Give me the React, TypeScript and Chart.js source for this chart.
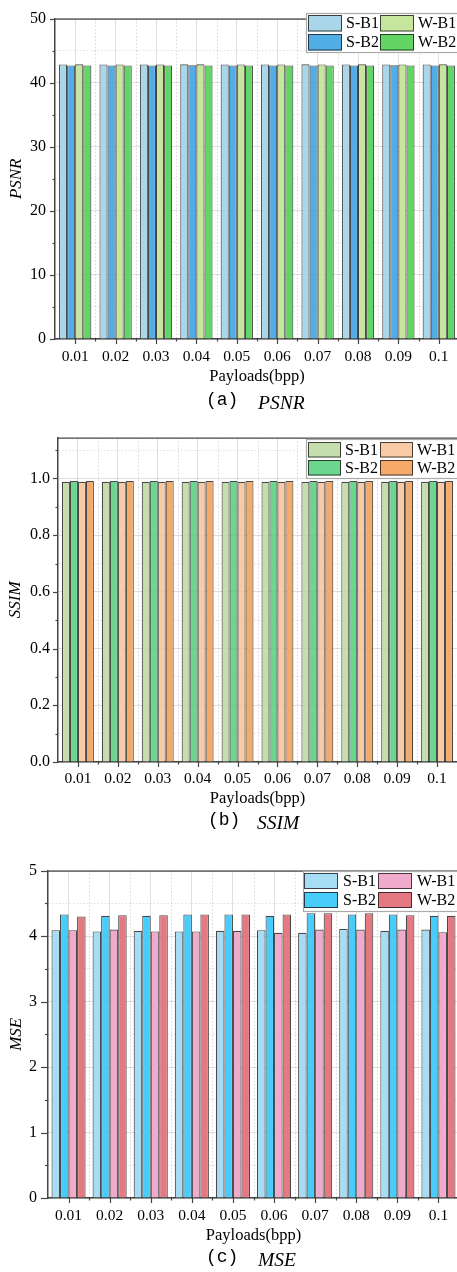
import React, { useEffect, useRef } from "react";
import { Chart, registerables } from "chart.js";
Chart.register(...registerables);

const categories = ["0.01", "0.02", "0.03", "0.04", "0.05", "0.06", "0.07", "0.08", "0.09", "0.1"];
const seriesNames = ["S-B1", "S-B2", "W-B1", "W-B2"];

const psnrSB1 = [42.85, 42.85, 42.84, 42.86, 42.85, 42.85, 42.86, 42.85, 42.84, 42.85];
const psnrSB2 = [42.7, 42.69, 42.7, 42.71, 42.7, 42.69, 42.7, 42.7, 42.71, 42.7];
const psnrWB1 = [42.86, 42.85, 42.85, 42.86, 42.84, 42.85, 42.85, 42.86, 42.85, 42.86];
const psnrWB2 = [42.68, 42.69, 42.68, 42.69, 42.68, 42.69, 42.68, 42.68, 42.69, 42.68];

const ssimSB1 = [0.988, 0.988, 0.988, 0.988, 0.988, 0.988, 0.987, 0.988, 0.988, 0.988];
const ssimSB2 = [0.991, 0.991, 0.991, 0.991, 0.991, 0.991, 0.991, 0.991, 0.991, 0.991];
const ssimWB1 = [0.988, 0.988, 0.988, 0.988, 0.988, 0.988, 0.988, 0.988, 0.988, 0.988];
const ssimWB2 = [0.991, 0.991, 0.991, 0.991, 0.991, 0.991, 0.991, 0.991, 0.991, 0.991];

const mseSB1 = [4.09, 4.07, 4.08, 4.07, 4.08, 4.09, 4.05, 4.11, 4.08, 4.1];
const mseSB2 = [4.33, 4.31, 4.31, 4.33, 4.33, 4.31, 4.35, 4.33, 4.33, 4.31];
const mseWB1 = [4.09, 4.1, 4.07, 4.07, 4.08, 4.05, 4.1, 4.1, 4.1, 4.06];
const mseWB2 = [4.3, 4.32, 4.32, 4.33, 4.33, 4.33, 4.35, 4.35, 4.32, 4.31];

const FONT = '"Liberation Serif", "Times New Roman", serif';
const BAR_BORDER = "rgba(20,20,20,0.78)";
const AXIS_COLOR = "#454545";

type LegendCfg = { left: number; top: number; h: number; dx: number[]; dy: number[]; sw: number; sh: number; tg: number };
type PanelCfg = {
  top: number; height: number; width: number; padTop: number; padRight: number;
  yWidth: number; xHeight: number; yMax: number; yMajor: number; yMinor: number; yDecimals: number;
  yTitle: string; yTitlePad: number; yLabelPad: number; xLabelPad: number; xTitlePad: number;
  majorTick: number; minorTick: number; catPct: number; colors: string[]; series: number[][]; legend: LegendCfg;
};

const isMajor = (v: number, major: number) => Math.abs(v / major - Math.round(v / major)) < 1e-6;

const decorPlugin = {
  id: "decor",
  beforeDatasetsDraw(chart: any) {
    const { ctx, chartArea: a } = chart;
    const x = chart.scales.x;
    const n = chart.data.labels.length;
    const step = x.getPixelForValue(1) - x.getPixelForValue(0);
    ctx.save();
    ctx.strokeStyle = "rgba(0,0,0,0.16)";
    ctx.lineWidth = 1;
    ctx.setLineDash([1.5, 2]);
    for (let i = 1; i < n; i++) {
      const px = Math.round(x.getPixelForValue(i) - step / 2) + 0.5;
      ctx.beginPath();
      ctx.moveTo(px, a.top);
      ctx.lineTo(px, a.bottom);
      ctx.stroke();
    }
    ctx.restore();
  },
  afterDraw(chart: any, _args: any, opts: any) {
    const { ctx, chartArea: a } = chart;
    const x = chart.scales.x;
    const y = chart.scales.y;
    const n = chart.data.labels.length;
    const step = x.getPixelForValue(1) - x.getPixelForValue(0);
    ctx.save();
    ctx.strokeStyle = AXIS_COLOR;
    ctx.lineWidth = 1.4;
    ctx.beginPath();
    ctx.moveTo(a.left, a.top + 0.5);
    ctx.lineTo(a.right, a.top + 0.5);
    ctx.stroke();
    ctx.lineWidth = 1.2;
    for (const t of y.ticks) {
      const py = Math.round(y.getPixelForValue(t.value)) + 0.5;
      const len = isMajor(t.value, opts.yMajor) ? opts.majorTick : opts.minorTick;
      ctx.beginPath();
      ctx.moveTo(a.left - len, py);
      ctx.lineTo(a.left, py);
      ctx.stroke();
    }
    for (let i = 0; i < n; i++) {
      const px = Math.round(x.getPixelForValue(i)) + 0.5;
      ctx.beginPath();
      ctx.moveTo(px, a.bottom);
      ctx.lineTo(px, a.bottom + 5);
      ctx.stroke();
      const bx = Math.round(x.getPixelForValue(i) + step / 2) + 0.5;
      if (i < n - 1) {
        ctx.beginPath();
        ctx.moveTo(bx, a.bottom);
        ctx.lineTo(bx, a.bottom + 2.5);
        ctx.stroke();
      }
    }
    const L: LegendCfg = opts.legend;
    ctx.fillStyle = "#ffffff";
    ctx.fillRect(L.left, L.top, chart.width - L.left + 5, L.h);
    ctx.strokeStyle = "#aaaaaa";
    ctx.lineWidth = 1.2;
    ctx.strokeRect(L.left + 0.5, L.top + 0.5, chart.width - L.left + 5, L.h);
    ctx.font = `16px ${FONT}`;
    ctx.textBaseline = "middle";
    ctx.textAlign = "left";
    chart.data.datasets.forEach((d: any, i: number) => {
      const col = Math.floor(i / 2);
      const row = i % 2;
      const sx = L.left + L.dx[col];
      const sy = L.top + L.dy[row];
      ctx.fillStyle = d.backgroundColor;
      ctx.fillRect(sx, sy, L.sw, L.sh);
      ctx.strokeStyle = BAR_BORDER;
      ctx.lineWidth = 1;
      ctx.strokeRect(sx + 0.5, sy + 0.5, L.sw - 1, L.sh - 1);
      ctx.fillStyle = "#000";
      ctx.fillText(d.label, sx + L.sw + L.tg, sy + L.sh / 2 + 1);
    });
    ctx.restore();
  },
};

function Panel({ cfg }: { cfg: PanelCfg }) {
  const ref = useRef<HTMLCanvasElement | null>(null);
  useEffect(() => {
    if (!ref.current) return;
    const chart = new Chart(ref.current, {
      type: "bar",
      data: {
        labels: categories,
        datasets: seriesNames.map((name, i) => ({
          label: name,
          data: cfg.series[i],
          backgroundColor: cfg.colors[i],
          borderColor: BAR_BORDER,
          borderWidth: 1.1,
          barPercentage: 1,
          categoryPercentage: cfg.catPct,
        })),
      },
      options: {
        animation: false,
        responsive: false,
        devicePixelRatio: 1,
        layout: { padding: { top: cfg.padTop, right: cfg.padRight, left: 0, bottom: 0 } },
        plugins: {
          legend: { display: false },
          tooltip: { enabled: false },
          decor: { legend: cfg.legend, yMajor: cfg.yMajor, majorTick: cfg.majorTick, minorTick: cfg.minorTick },
        } as any,
        scales: {
          x: {
            offset: true,
            grid: { offset: false, color: "rgba(0,0,0,0.12)", lineWidth: 1, drawTicks: false },
            border: { display: true, color: AXIS_COLOR, width: 1.5 },
            ticks: { color: "#000", font: { family: FONT, size: 15.5 }, padding: cfg.xLabelPad, maxRotation: 0, autoSkip: false },
            title: { display: true, text: "Payloads(bpp)", color: "#000", font: { family: FONT, size: 16.5 }, padding: { top: 0, bottom: cfg.xTitlePad } },
            afterFit: (s: any) => { s.height = cfg.xHeight; },
          },
          y: {
            min: 0,
            max: cfg.yMax,
            grid: { drawTicks: false, color: "rgba(0,0,0,0.12)", lineWidth: 1 },
            border: {
              display: true, color: AXIS_COLOR, width: 1.5,
              dash: (c: any) => (c.tick && !isMajor(c.tick.value, cfg.yMajor) ? [1.5, 2] : []),
            },
            ticks: {
              stepSize: cfg.yMinor,
              includeBounds: false,
              color: "#000",
              font: { family: FONT, size: 16 },
              padding: cfg.yLabelPad,
              callback: (v: any) => (isMajor(Number(v), cfg.yMajor) ? Number(v).toFixed(cfg.yDecimals) : ""),
            },
            title: { display: true, text: cfg.yTitle, color: "#000", font: { family: FONT, size: 17, style: "italic" }, padding: { top: cfg.yTitlePad, bottom: 0 } },
            afterFit: (s: any) => { s.width = cfg.yWidth; },
          },
        },
      } as any,
      plugins: [decorPlugin as any],
    });
    return () => chart.destroy();
  }, []);
  return (
    <div style={{ position: "absolute", left: 0, top: cfg.top, width: cfg.width, height: cfg.height }}>
      <canvas ref={ref} width={cfg.width} height={cfg.height} style={{ width: cfg.width, height: cfg.height, display: "block" }} />
    </div>
  );
}

const psnrCfg: PanelCfg = {
  top: 0, height: 395, width: 459, padTop: 13, padRight: 0, yWidth: 55, xHeight: 56,
  yMax: 50, yMajor: 10, yMinor: 5, yDecimals: 0, yTitle: "PSNR", yTitlePad: 6.5, yLabelPad: 9,
  xLabelPad: 9, xTitlePad: 8, majorTick: 5, minorTick: 2.5, catPct: 0.8,
  colors: ["#a9d6e8", "#52ace6", "#c7e69d", "#62d565"],
  series: [psnrSB1, psnrSB2, psnrWB1, psnrWB2],
  legend: { left: 306, top: 13, h: 39, dx: [2, 74], dy: [2, 21], sw: 34, sh: 16.5, tg: 4 },
};

const ssimCfg: PanelCfg = {
  top: 420, height: 395, width: 459, padTop: 17, padRight: 2, yWidth: 58, xHeight: 53,
  yMax: 1.144, yMajor: 0.2, yMinor: 0.1, yDecimals: 1, yTitle: "SSIM", yTitlePad: 5.5, yLabelPad: 8,
  xLabelPad: 8, xTitlePad: 6, majorTick: 5, minorTick: 2.5, catPct: 0.8,
  colors: ["#c6ddae", "#6cd58e", "#f8cba6", "#f6aa6a"],
  series: [ssimSB1, ssimSB2, ssimWB1, ssimWB2],
  legend: { left: 306, top: 19, h: 39, dx: [2, 74], dy: [3, 21], sw: 33, sh: 15.5, tg: 4 },
};

const mseCfg: PanelCfg = {
  top: 850, height: 400, width: 459, padTop: 20, padRight: 0, yWidth: 48, xHeight: 52,
  yMax: 5, yMajor: 1, yMinor: 0.5, yDecimals: 0, yTitle: "MSE", yTitlePad: 6.5, yLabelPad: 11,
  xLabelPad: 9, xTitlePad: 4, majorTick: 7, minorTick: 3, catPct: 0.83,
  colors: ["#a7ddf4", "#48cdfb", "#f0abcc", "#e57981"],
  series: [mseSB1, mseSB2, mseWB1, mseWB2],
  legend: { left: 303, top: 21, h: 40, dx: [1, 75], dy: [2, 21], sw: 34, sh: 16, tg: 5 },
};

function Caption({ letter, name, cy, lx, nx }: { letter: string; name: string; cy: number; lx: number; nx: number }) {
  return (
    <>
      <div style={{ position: "absolute", left: lx, top: cy - 13, lineHeight: "26px", font: '18px "Liberation Mono", monospace', color: "#000" }}>{`(${letter})`}</div>
      <div style={{ position: "absolute", left: nx, top: cy - 13, lineHeight: "26px", fontFamily: FONT, fontStyle: "italic", fontSize: 19.5, color: "#000" }}>{name}</div>
    </>
  );
}

export default function App() {
  return (
    <div style={{ position: "absolute", left: 0, top: 0, width: 457, height: 1272, overflow: "hidden", background: "#fff" }}>
      <Panel cfg={psnrCfg} />
      <Caption letter="a" name="PSNR" cy={403} lx={206} nx={258} />
      <Panel cfg={ssimCfg} />
      <Caption letter="b" name="SSIM" cy={823} lx={208} nx={257} />
      <Panel cfg={mseCfg} />
      <Caption letter="c" name="MSE" cy={1260} lx={206} nx={258} />
    </div>
  );
}
